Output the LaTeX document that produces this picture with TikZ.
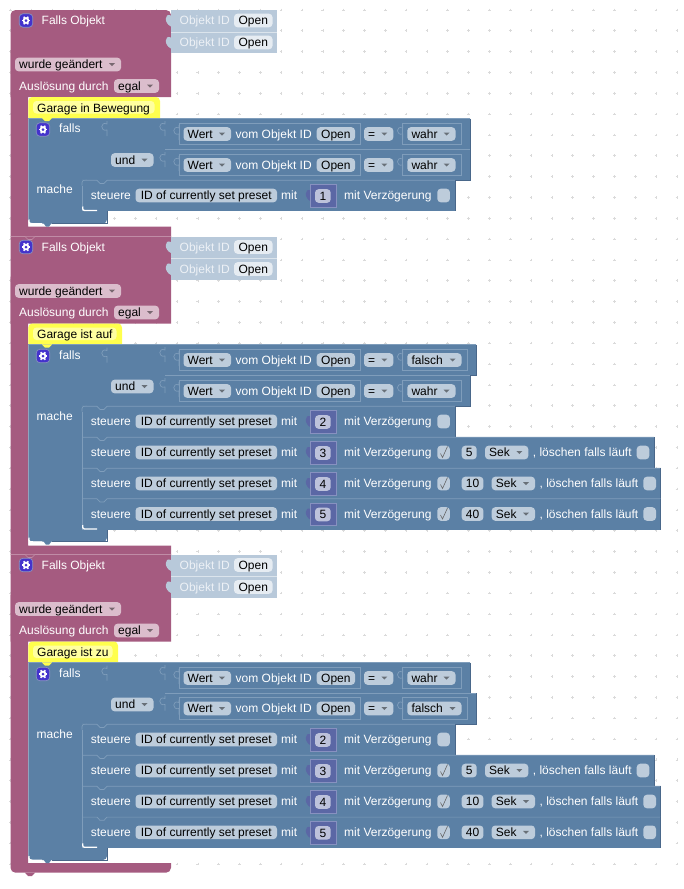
\documentclass[tikz,border=0pt]{standalone}
\usepackage{fontspec}
\setmainfont{Liberation Sans}
\definecolor{rulepink}{HTML}{A55B80}
\definecolor{rulelight}{HTML}{C08CA6}
\definecolor{fieldpink}{HTML}{DBBDCC}
\definecolor{ifblue}{HTML}{5B80A5}
\definecolor{bluelight}{HTML}{7F9DBB}
\definecolor{bluedark}{HTML}{49678A}
\definecolor{fieldblue}{HTML}{BDCCDB}
\definecolor{valuepale}{HTML}{B8C9DA}
\definecolor{valuefield}{HTML}{E6ECF2}
\definecolor{numpurple}{HTML}{5B67A5}
\definecolor{numlight}{HTML}{8791C0}
\definecolor{numfield}{HTML}{BDC2DB}
\definecolor{hatyellow}{HTML}{FFFF4D}
\definecolor{hatfield}{HTML}{FFFFA0}
\definecolor{iconfill}{HTML}{4433CC}
\definecolor{griddotcol}{HTML}{DADADA}
\tikzset{
  blocklabel/.style={anchor=base west, inner sep=0pt, text=white, font=\fontsize{12}{14}\selectfont},
  fieldlabel/.style={anchor=base, inner sep=0pt, text=black, font=\fontsize{12}{14}\selectfont},
  droplabel/.style={anchor=base west, inner sep=0pt, text=black, font=\fontsize{12}{14}\selectfont},
  fieldshape/.style={rounded corners=3.5pt},
  seamline/.style={draw=bluelight, line width=0.7pt},
  seamdark/.style={draw=bluedark, line width=0.7pt},
  griddot/.style={draw=griddotcol, line width=0.5pt},
  droparrow/.style={fill=black!45!#1},
  checkline/.style={draw=black!60, line width=0.6pt}
}
% text and fields, x1 x2 y
\newcommand{\blocktext}[3]{\node[blocklabel] at (#1,#2+4.2) {#3};}
\newcommand{\fieldbox}[5]{
  \fill[fieldshape, fill=#4] (#1,#3-6.8) rectangle (#2,#3+6.8);
  \node[fieldlabel] at ({(#1+#2)/2},#3+4.2) {#5};
}
\newcommand{\dropfield}[5]{
  \fill[fieldshape, fill=#4] (#1,#3-6.8) rectangle (#2,#3+6.8);
  \node[droplabel] at (#1+4,#3+4.2) {#5};
  \fill[droparrow=#4] (#2-12,#3-1.5) -- (#2-6,#3-1.5) -- (#2-9,#3+1.5) -- cycle;
}
\newcommand{\puzzletab}[3]{
  \draw[#3] (#1,#2-8) -- (#1,#2-5) .. controls (#1-7,#2-8) and (#1-7,#2+3) .. (#1,#2+1) -- (#1,#2+7);
}
\newcommand{\gearicon}[2]{
  \fill[fieldshape, fill=iconfill, draw=numlight, line width=0.7pt] (#1-6.7,#2-6.7) rectangle (#1+6.7,#2+6.7);
  \foreach \spoke in {0,60,...,300} \draw[white, line width=1.5pt] (#1,#2) -- ++(\spoke:4.4);
  \fill[white] (#1,#2) circle (3.4pt);
  \fill[iconfill] (#1,#2) circle (1.5pt);
}
\newcommand{\emptybox}[2]{\fill[fieldshape, fill=fieldblue] (#1,#2-6.8) rectangle (#1+12.6,#2+6.8);}
% one rule: top, top of bar, bottom of bar, corners
\newcommand{\rulebody}[5]{
  \fill[rulepink, rounded corners=#4] (10.5,#1+40) -- (10.5,#1) -- (171,#1) [sharp corners] -- (171,#1+87) -- (10.5,#1+87) -- cycle;
  \fill[rulepink, rounded corners=#5] (10.5,#1+40) -- (10.5,#3) -- (171,#3) [sharp corners] -- (171,#2) -- (28,#2) -- (28,#1+40) -- cycle;
}
\newcommand{\rulehead}[3]{
  \gearicon{26}{#1+10.5}
  \blocktext{41.5}{#1+10.5}{Falls Objekt}
  \fill[valuepale] (171,#1) rectangle (277,#1+43);
  \draw[draw=white!50!valuepale, line width=0.6pt] (171,#1+22) -- (277,#1+22);
  \foreach \oy in {10.5,32.5} {
    \fill[valuepale] (171.5,#1+\oy-8) -- (171,#1+\oy-5) .. controls (164,#1+\oy-8) and (164,#1+\oy+3) .. (171,#1+\oy+6) -- cycle;
    \node[blocklabel, text=white!75!valuepale] at (179.5,#1+\oy+4.2) {Objekt ID};
    \fieldbox{234}{272.5}{#1+\oy}{valuefield}{Open}
  }
  \dropfield{15}{121}{#1+54.5}{fieldpink}{wurde geändert}
  \blocktext{19}{#1+76}{Auslösung durch}
  \dropfield{114}{159}{#1+76}{fieldpink}{egal}
  % comment on top of the if block
  \fill[hatyellow, rounded corners=4pt] (28.3,#1+108) -- (28.3,#1+87) -- (#3,#1+87) [sharp corners] -- (#3,#1+108) -- cycle;
  \fill[fieldshape, fill=hatfield] (33,#1+91) rectangle (#3-5.5,#1+103.5);
  \node[droplabel] at (37,#1+102) {#2};
}
\newcommand{\ifbody}[3]{
  \fill[ifblue, rounded corners=4pt] (28.3,#1+40) -- (28.3,#3) -- (107,#3) [sharp corners] -- (107,#2) -- (82,#2) -- (82,#1+62) -- (107,#1+62) -- (107,#1) -- (28.3,#1) -- cycle;
  \fill[hatyellow] (42,#1) -- (52,#1) -- (49,#1+3) -- (45,#1+3) -- cycle;
  \draw[seamline] (28.3,#1) -- (42,#1) (52,#1) -- (107,#1);
  \draw[seamline] (107,#1) -- (107,#1+62);
  \draw[seamdark] (107,#2) -- (107,#3) -- (52,#3);
  \fill[ifblue] (43,#3-1) -- (52,#3-1) -- (49,#3+3) -- (46,#3+3) -- cycle;
  \draw[white, line width=1.3pt] (29,#3-4) .. controls (29,#3) .. (33,#3+0.2) -- (42,#3+0.2);
  \fill[ifblue] (107,#1) rectangle (165,#1+62);
  \draw[seamline] (107,#1) -- (165,#1) -- (165,#1+62);
  \puzzletab{107}{#1+11}{seamline}
  \gearicon{43}{#1+11.5}
  \blocktext{59}{#1+10.5}{falls}
  \dropfield{111}{153.5}{#1+42}{fieldblue}{und}
  \blocktext{36.5}{#1+71.5}{mache}
}
% white edge under the last statement
\newcommand{\stackend}[1]{
  \draw[white, line width=1.3pt] (82.7,#1-4.5) .. controls (82.7,#1-0.5) .. (87,#1-0.5) -- (97,#1-0.5);
}
% one compare row: middle, right edge, word
\newcommand{\comparerow}[3]{
  \fill[ifblue] (165,#1-15.5) rectangle (#2,#1+15.5);
  \draw[seamline] (165,#1-15.5) -- (#2,#1-15.5);
  \draw[seamdark] (#2,#1-15.5) -- (#2,#1+15.5) -- (165,#1+15.5);
  \puzzletab{165}{#1-5}{seamline}
  \draw[seamline] (179,#1-11) rectangle (360.5,#1+10.5);
  \puzzletab{179}{#1-1}{seamline}
  \dropfield{183.5}{231}{#1}{fieldblue}{Wert}
  \blocktext{235.5}{#1}{vom Objekt ID}
  \fieldbox{316.7}{355}{#1}{fieldblue}{Open}
  \dropfield{364}{393.3}{#1}{fieldblue}{=}
  \draw[seamline] (402.7,#1-11) rectangle (#2-8.5,#1+10.5);
  \puzzletab{402.7}{#1-1}{seamline}
  \dropfield{407.3}{#2-14.5}{#1}{fieldblue}{#3}
}
% one statement row: middle, number, right edge
\newcommand{\steuerrow}[3]{
  \fill[ifblue] (82,#1-15.2) rectangle (#3,#1+15.5);
  \draw[seamline] (82,#1-15.2) -- (97,#1-15.2) -- (100,#1-12) -- (104,#1-12) -- (107,#1-15.2) -- (#3,#1-15.2);
  \draw[seamdark] (#3,#1-15.2) -- (#3,#1+15.5);
  \draw[seamline] (82,#1-15.2) -- (82,#1+15.5);
  \blocktext{90.7}{#1}{steuere}
  \fieldbox{135.5}{277}{#1}{fieldblue}{ID of currently set preset}
  \blocktext{281}{#1}{mit}
  \fill[numpurple] (311,#1-7.5) -- (311,#1-5) .. controls (304,#1-8) and (304,#1+3) .. (311,#1+6) -- cycle;
  \fill[numpurple, draw=numlight, line width=0.6pt] (310.7,#1-11) rectangle (336.7,#1+11.5);
  \fieldbox{315}{330.7}{#1+0.5}{numfield}{#2}
  \blocktext{344}{#1}{mit Verzögerung}
}
\newcommand{\steuerplain}[2]{
  \steuerrow{#1}{#2}{455}
  \emptybox{437.3}{#1}
  \fill[ifblue] (81,#1-16) rectangle (87,#1-10);
  \draw[seamline] (82,#1-10) .. controls (82,#1-15.2) .. (87,#1-15.2);
}
\newcommand{\steuerdelay}[4]{
  \steuerrow{#1}{#2}{654+#4}
  \emptybox{437.3}{#1}
  \draw[checkline] (440.5,#1+1) -- (442.5,#1+5) -- (447.5,#1-6);
  \fieldbox{461.7}{476.7+#4}{#1}{fieldblue}{#3}
  \dropfield{485+#4}{528.3+#4}{#1}{fieldblue}{Sek}
  \blocktext{532.7+#4}{#1}{, löschen falls läuft}
  \emptybox{636.7+#4}{#1}
}
\begin{document}
\begin{tikzpicture}[x=1pt,y=-1pt]
  \useasboundingbox (0,0) rectangle (683,889);
  \fill[white] (0,0) rectangle (683,889);
  \foreach \dotx in {0,...,32}
    \foreach \doty in {0,...,41}
      \draw[griddot] (10.3+20.83*\dotx-1.3,9.9+20.83*\doty) -- ++(2.6,0) (10.3+20.83*\dotx,9.9+20.83*\doty-1.3) -- ++(0,2.6);

  % first rule
  \rulebody{10}{226.5}{236.5}{5pt}{0pt}
  \rulehead{10}{Garage in Bewegung}{160}
  \ifbody{118}{211}{223.5}
  \comparerow{134}{470}{wahr}
  \comparerow{165}{470}{wahr}
  \steuerplain{195.5}{1}
  \stackend{211}

  % second rule
  \rulebody{236.5}{545.7}{554.5}{0pt}{0pt}
  \draw[draw=rulelight, line width=0.6pt] (10.5,236.5) -- (25,236.5) -- (28,239.5) -- (32,239.5) -- (35,236.5) -- (171,236.5);
  \rulehead{236.5}{Garage ist auf}{122}
  \ifbody{344.5}{529}{541.7}
  \comparerow{360}{476}{falsch}
  \comparerow{391}{470}{wahr}
  \steuerplain{421.5}{2}
  \steuerdelay{452.5}{3}{5}{0}
  \steuerdelay{483.5}{4}{10}{6.7}
  \steuerdelay{514}{5}{40}{6.7}
  \stackend{529.5}

  % third rule
  \rulebody{554.5}{863}{872.7}{0pt}{5pt}
  \draw[draw=rulelight, line width=0.6pt] (10.5,554.5) -- (25,554.5) -- (28,557.5) -- (32,557.5) -- (35,554.5) -- (171,554.5);
  \fill[rulepink] (25,872.7) -- (35,872.7) -- (32,876) -- (28,876) -- cycle;
  \rulehead{554.5}{Garage ist zu}{118}
  \ifbody{662.5}{847.7}{860}
  \comparerow{678}{470}{wahr}
  \comparerow{708.5}{476}{falsch}
  \steuerplain{739.5}{2}
  \steuerdelay{770.5}{3}{5}{0}
  \steuerdelay{801.5}{4}{10}{6.7}
  \steuerdelay{832.3}{5}{40}{6.7}
  \stackend{847.8}
\end{tikzpicture}
\end{document}
